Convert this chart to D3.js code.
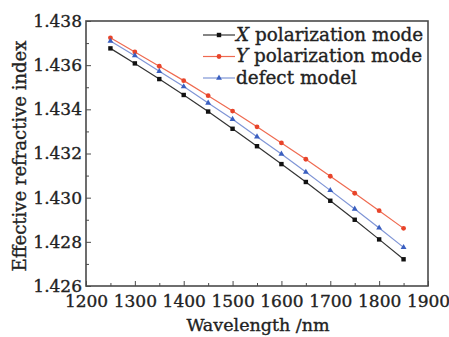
<!DOCTYPE html>
<html>
<head>
<meta charset="utf-8">
<script src="https://cdn.jsdelivr.net/npm/d3@7"></script>
<style>
  body { margin: 0; background: #fff; }
  svg { display: block; }
  text { font-family: 'DejaVu Serif', serif; fill: #222; stroke: #222; stroke-width: 0.35px; }
</style>
</head>
<body>
<div id="chart"></div>
<script>
var wavelengths = [1250, 1300, 1350, 1400, 1450, 1500, 1550, 1600, 1650, 1700, 1750, 1800, 1850];
var xMode = [1.43676, 1.43608, 1.43537, 1.43465, 1.43390, 1.43312, 1.43233, 1.43152, 1.43071, 1.42986, 1.42900, 1.42811, 1.42721];
var yMode = [1.43724, 1.43660, 1.43595, 1.43530, 1.43462, 1.43392, 1.43321, 1.43248, 1.43174, 1.43097, 1.43020, 1.42941, 1.42861];
var defectMode = [1.43709, 1.43643, 1.43572, 1.43503, 1.43429, 1.43355, 1.43276, 1.43198, 1.43116, 1.43033, 1.42949, 1.42863, 1.42775];
var xTicks = [1200, 1300, 1400, 1500, 1600, 1700, 1800, 1900];
var yTicks = [1.426, 1.428, 1.430, 1.432, 1.434, 1.436, 1.438];

var width = 449, height = 337;
var margin = { left: 86, right: 21, top: 21, bottom: 51 };
var w = width - margin.left - margin.right;
var h = height - margin.top - margin.bottom;

var series = [
    { name: 'X', rest: ' polarization mode', values: xMode, color: '#111111', line: '#333333', shape: 'square' },
    { name: 'Y', rest: ' polarization mode', values: yMode, color: '#e8442a', line: '#ef6a50', shape: 'circle' },
    { name: '', rest: 'defect model', values: defectMode, color: '#3a5fc0', line: '#7f95d6', shape: 'triangle' }
];

var svg = d3.select('#chart').append('svg')
    .attr('width', width)
    .attr('height', height);

var g = svg.append('g')
    .attr('transform', 'translate(' + margin.left + ',' + margin.top + ')');

var x = d3.scaleLinear().domain([1200, 1900]).range([0, w]);
var y = d3.scaleLinear().domain([1.426, 1.438]).range([h, 0]);

// minor + major ticks, pointing inward
var axisColor = '#4a4a4a';
g.append('g')
    .attr('transform', 'translate(0,' + h + ')')
    .call(d3.axisBottom(x).tickValues(d3.range(1250, 1900, 100)).tickSize(-3).tickFormat(''))
    .call(a => a.select('.domain').remove())
    .selectAll('line').attr('stroke', axisColor);

var xAxis = g.append('g')
    .attr('transform', 'translate(0,' + h + ')')
    .call(d3.axisBottom(x).tickValues(xTicks).tickSize(-5).tickPadding(9).tickFormat(d3.format('d')));
xAxis.select('.domain').remove();
xAxis.selectAll('line').attr('stroke', axisColor);
xAxis.selectAll('text').style('font-size', '17px').style('font-family', "'DejaVu Serif', serif").attr('fill', '#222');

g.append('g')
    .call(d3.axisLeft(y).tickValues(d3.range(1.427, 1.438, 0.002)).tickSize(-3).tickFormat(''))
    .call(a => a.select('.domain').remove())
    .selectAll('line').attr('stroke', axisColor);

var yAxis = g.append('g')
    .call(d3.axisLeft(y).tickValues(yTicks).tickSize(-5).tickPadding(4).tickFormat(d3.format('.3f')));
yAxis.select('.domain').remove();
yAxis.selectAll('line').attr('stroke', axisColor);
yAxis.selectAll('text').style('font-size', '17px').style('font-family', "'DejaVu Serif', serif").attr('fill', '#222');

// frame
g.append('rect')
    .attr('width', w)
    .attr('height', h)
    .attr('fill', 'none')
    .attr('stroke', axisColor)
    .attr('stroke-width', 1.6);

var line = d3.line()
    .x((d, i) => x(wavelengths[i]))
    .y(d => y(d));

var drawMarker = function(sel, shape, color, cx, cy) {
    if (shape === 'square') {
        sel.append('rect').attr('x', cx - 2.2).attr('y', cy - 2.2).attr('width', 4.4).attr('height', 4.4).attr('fill', color);
    } else if (shape === 'circle') {
        sel.append('circle').attr('cx', cx).attr('cy', cy).attr('r', 2.4).attr('fill', color);
    } else {
        sel.append('path').attr('d', d3.symbol().type(d3.symbolTriangle).size(15)()).attr('transform', 'translate(' + cx + ',' + cy + ')').attr('fill', color);
    }
};

series.forEach(s => {
    g.append('path')
        .datum(s.values)
        .attr('fill', 'none')
        .attr('stroke', s.line)
        .attr('stroke-width', 1.2)
        .attr('d', line);
    var pts = g.append('g');
    s.values.forEach((v, i) => drawMarker(pts, s.shape, s.color, x(wavelengths[i]), y(v)));
});

// legend
var legend = svg.append('g');
series.forEach((s, i) => {
    var ly = 35 + i * 21.5;
    legend.append('line')
        .attr('x1', 203).attr('x2', 235)
        .attr('y1', ly).attr('y2', ly)
        .attr('stroke', s.line).attr('stroke-width', 1.2);
    drawMarker(legend, s.shape, s.color, 219, ly);
    var t = legend.append('text')
        .attr('x', 236).attr('y', ly)
        .attr('dy', '0.3em')
        .style('font-size', '18.4px');
    if (s.name) t.append('tspan').style('font-style', 'italic').text(s.name);
    t.append('tspan').text(s.rest);
});

// axis titles
svg.append('text')
    .attr('x', margin.left + w / 2 + 1)
    .attr('y', 331)
    .attr('text-anchor', 'middle')
    .style('font-size', '17.5px')
    .text('Wavelength /nm');

svg.append('text')
    .attr('transform', 'translate(20,' + 156 + ') rotate(-90)')
    .attr('text-anchor', 'middle')
    .attr('dy', '0.35em')
    .style('font-size', '18px')
    .text('Effective refractive index');
</script>
</body>
</html>
